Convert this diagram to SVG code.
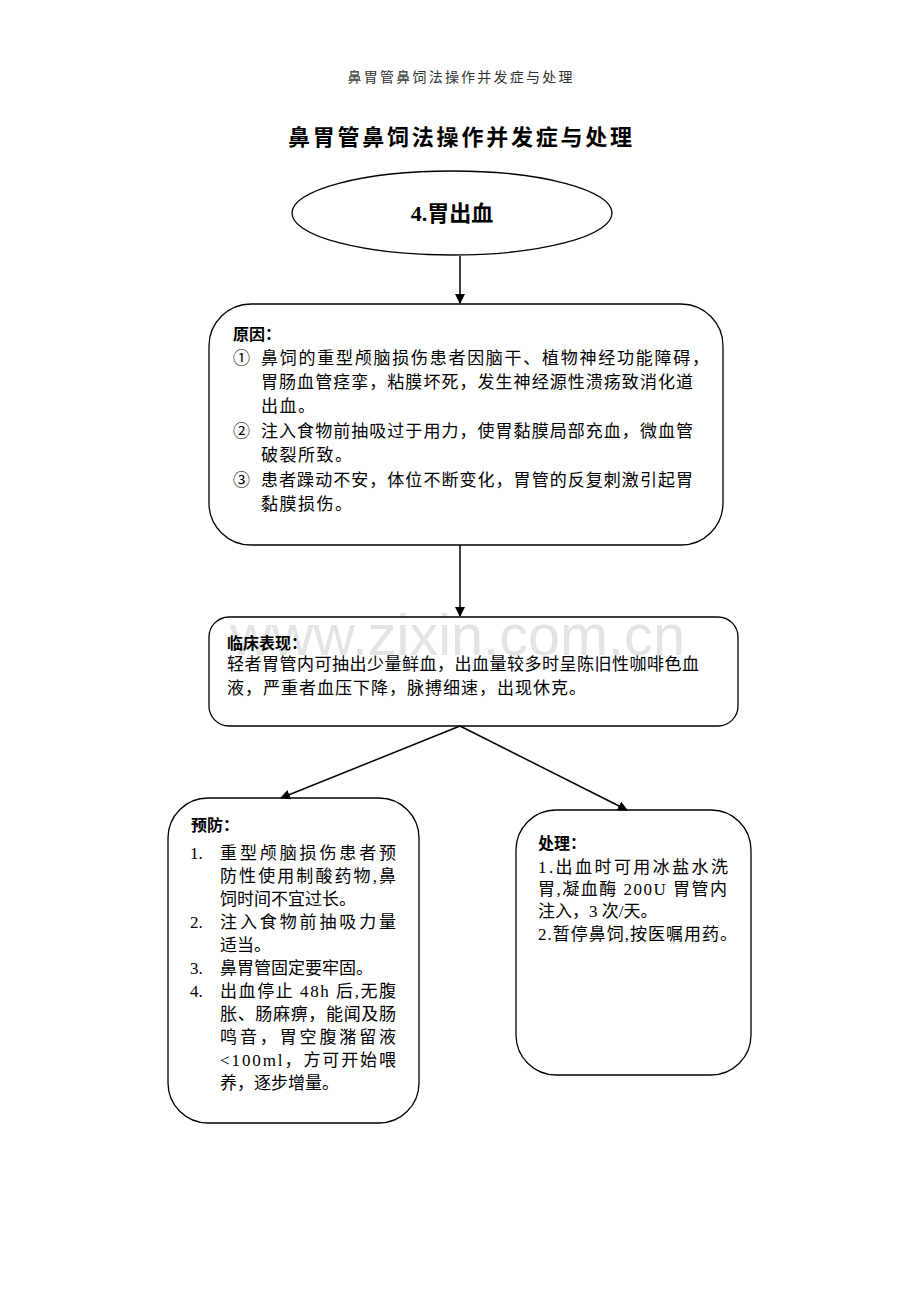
<svg xmlns="http://www.w3.org/2000/svg" width="920" height="1302" viewBox="0 0 920 1302">
<style>
.t{font-family:"Liberation Serif","Noto Sans CJK SC",serif;font-size:17px;fill:#000}
.b{font-family:"Noto Sans CJK SC",sans-serif;font-size:16px;font-weight:bold;fill:#000}
.box{fill:none;stroke:#000;stroke-width:1.3}
.c{stroke:#000;stroke-width:1.5;fill:none}
</style>
<defs>
<marker id="ah" markerWidth="10" markerHeight="10" refX="9" refY="5" orient="auto" markerUnits="userSpaceOnUse">
<path d="M0,0 L10,5 L0,10 Z" fill="#000"/>
</marker>
</defs>
<rect width="920" height="1302" fill="#fff"/>
<text x="460" y="82" text-anchor="middle" font-family="Liberation Serif,Noto Sans CJK SC,serif" font-size="14" fill="#333" textLength="225">鼻胃管鼻饲法操作并发症与处理</text>
<text x="288" y="145" font-family="Noto Sans CJK SC,sans-serif" font-size="22" font-weight="bold" textLength="344" lengthAdjust="spacing">鼻胃管鼻饲法操作并发症与处理</text>
<text x="230" y="655" font-family="Liberation Sans,Arial,sans-serif" font-size="57" fill="#e3e3e3" textLength="455" lengthAdjust="spacingAndGlyphs">www.zixin.com.cn</text>
<g id="connectors">
<line class="c" x1="460" y1="256" x2="460" y2="303" marker-end="url(#ah)"/>
<line class="c" x1="460" y1="545" x2="460" y2="616" marker-end="url(#ah)"/>
<line class="c" x1="460" y1="726" x2="281" y2="798" marker-end="url(#ah)"/>
<line class="c" x1="460" y1="726" x2="627" y2="810" marker-end="url(#ah)"/>
</g>
<g id="n0">
<ellipse class="box" cx="452" cy="213" rx="160" ry="42"/>
<text x="452" y="221" text-anchor="middle" font-family="Liberation Serif,Noto Sans CJK SC,serif" font-size="22" font-weight="bold">4.胃出血</text>
</g>
<g id="n1">
<rect class="box" x="209" y="304" width="514" height="241" rx="42"/>
<text class="b" x="233" y="340">原因：</text>
<text class="t" x="233" y="364">①</text>
<text class="t" x="261" y="364" textLength="448" lengthAdjust="spacing">鼻饲的重型颅脑损伤患者因脑干、植物神经功能障碍，</text>
<text class="t" x="261" y="388" textLength="432" lengthAdjust="spacing">胃肠血管痉挛，粘膜坏死，发生神经源性溃疡致消化道</text>
<text class="t" x="261" y="412" letter-spacing="1.5">出血。</text>
<text class="t" x="233" y="437">②</text>
<text class="t" x="261" y="437" textLength="432" lengthAdjust="spacing">注入食物前抽吸过于用力，使胃黏膜局部充血，微血管</text>
<text class="t" x="261" y="461" letter-spacing="1.5">破裂所致。</text>
<text class="t" x="233" y="486">③</text>
<text class="t" x="261" y="486" textLength="432" lengthAdjust="spacing">患者躁动不安，体位不断变化，胃管的反复刺激引起胃</text>
<text class="t" x="261" y="510" letter-spacing="1.5">黏膜损伤。</text>
</g>
<g id="n2">
<rect class="box" x="209" y="617" width="529" height="109" rx="20"/>
<text class="b" x="227" y="649">临床表现：</text>
<text class="t" x="227" y="670" textLength="472" lengthAdjust="spacing">轻者胃管内可抽出少量鲜血，出血量较多时呈陈旧性咖啡色血</text>
<text class="t" x="227" y="694" letter-spacing="1">液，严重者血压下降，脉搏细速，出现休克。</text>
</g>
<g id="n3">
<rect class="box" x="168" y="798" width="251" height="325" rx="40"/>
<text class="b" x="191" y="831">预防：</text>
<text class="t" x="190" y="859">1.</text>
<text class="t" x="220" y="859" textLength="176" lengthAdjust="spacing">重型颅脑损伤患者预</text>
<text class="t" x="220" y="882" textLength="176" lengthAdjust="spacing">防性使用制酸药物,鼻</text>
<text class="t" x="220" y="905">饲时间不宜过长。</text>
<text class="t" x="190" y="928">2.</text>
<text class="t" x="220" y="928" textLength="176" lengthAdjust="spacing">注入食物前抽吸力量</text>
<text class="t" x="220" y="951">适当。</text>
<text class="t" x="190" y="974">3.</text>
<text class="t" x="220" y="974">鼻胃管固定要牢固。</text>
<text class="t" x="190" y="997">4.</text>
<text class="t" x="220" y="997" textLength="176" lengthAdjust="spacing">出血停止 48h 后,无腹</text>
<text class="t" x="220" y="1020" textLength="176" lengthAdjust="spacing">胀、肠麻痹，能闻及肠</text>
<text class="t" x="220" y="1043" textLength="176" lengthAdjust="spacing">鸣音，胃空腹潴留液</text>
<text class="t" x="220" y="1066" textLength="176" lengthAdjust="spacing">&lt;100ml，方可开始喂</text>
<text class="t" x="220" y="1089">养，逐步增量。</text>
</g>
<g id="n4">
<rect class="box" x="516" y="810" width="235" height="265" rx="40"/>
<text class="b" x="538" y="849">处理：</text>
<text class="t" x="538" y="873" textLength="190" lengthAdjust="spacing">1.出血时可用冰盐水洗</text>
<text class="t" x="538" y="895" textLength="189" lengthAdjust="spacing">胃,凝血酶 200U 胃管内</text>
<text class="t" x="538" y="917">注入，3 次/天。</text>
<text class="t" x="538" y="940" textLength="199" lengthAdjust="spacing">2.暂停鼻饲,按医嘱用药。</text>
</g>
</svg>
